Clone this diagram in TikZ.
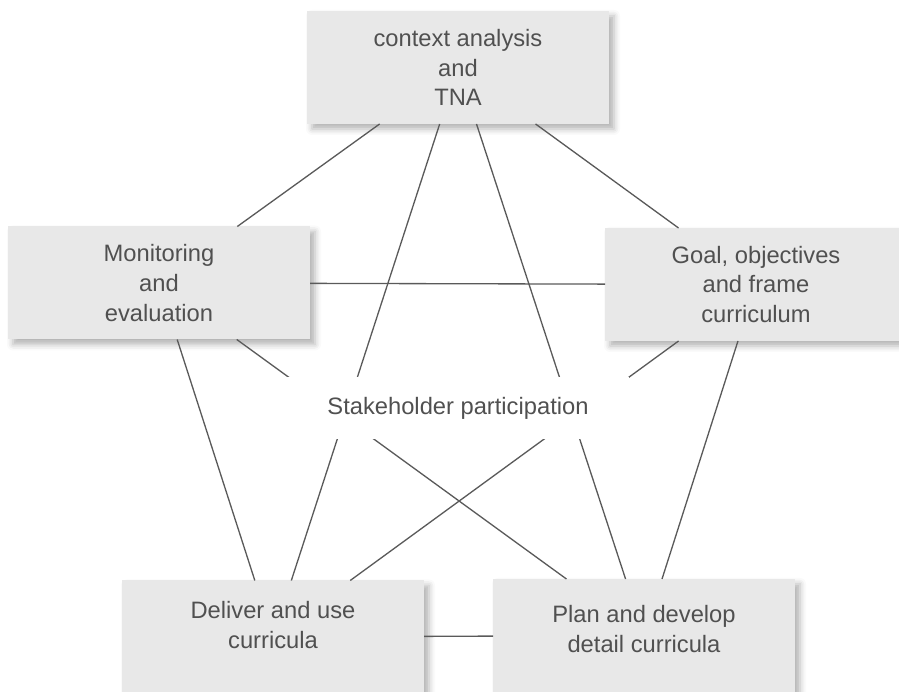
\documentclass[tikz,border=0pt]{standalone}
\usepackage{fontspec}
\setmainfont{Liberation Sans}
\usetikzlibrary{shadows.blur}

\definecolor{boxgray}{HTML}{E8E8E8}
\definecolor{inkgray}{HTML}{505050}
\definecolor{linegray}{HTML}{5A5A5A}

\begin{document}
\begin{tikzpicture}[
  stage/.style={fill=boxgray, minimum width=6.04cm, minimum height=2.26cm, outer sep=0pt,
    align=center, text=inkgray, font=\fontsize{13.5}{17}\selectfont,
    blur shadow={shadow xshift=0.1cm, shadow yshift=-0.1cm, shadow blur radius=0.12cm, shadow opacity=30}},
  caption/.style={align=center, text=inkgray, font=\fontsize{13.5}{17}\selectfont},
  link/.style={draw=linegray, line width=0.75pt}
]
\useasboundingbox (0,0) rectangle (17.98,13.84);

% the five stages
\node[stage] (tna) at (9.16,12.49) {context analysis\\and\\TNA};
\node[stage] (monitor) at (3.18,8.18) {Monitoring\\and\\evaluation};
\node[stage] (goal) at (15.12,8.15) {Goal, objectives\\and frame\\curriculum};
\node[stage] (deliver) at (5.46,1.10) {};
\node[stage] (plan) at (12.88,1.13) {};
\node[caption] (deliver text) at ([yshift=0.24cm]deliver.center) {Deliver and use\\curricula};
\node[caption] (plan text) at ([yshift=0.13cm]plan.center) {Plan and develop\\detail curricula};

% every stage linked to every other one
\draw[link] (tna) -- (monitor);
\draw[link] (tna) -- (goal);
\draw[link] (tna) -- (deliver);
\draw[link] (tna) -- (plan);
\draw[link] (monitor) -- (goal);
\draw[link] (monitor) -- (deliver);
\draw[link] (monitor) -- (plan);
\draw[link] (goal) -- (deliver);
\draw[link] (goal) -- (plan);
\draw[link] (deliver) -- (plan);

% participation sits in the middle, over the links
\node[caption, fill=white, minimum width=6.84cm, minimum height=1.24cm] (stake) at (9.16,5.68) {Stakeholder participation};
\end{tikzpicture}
\end{document}
